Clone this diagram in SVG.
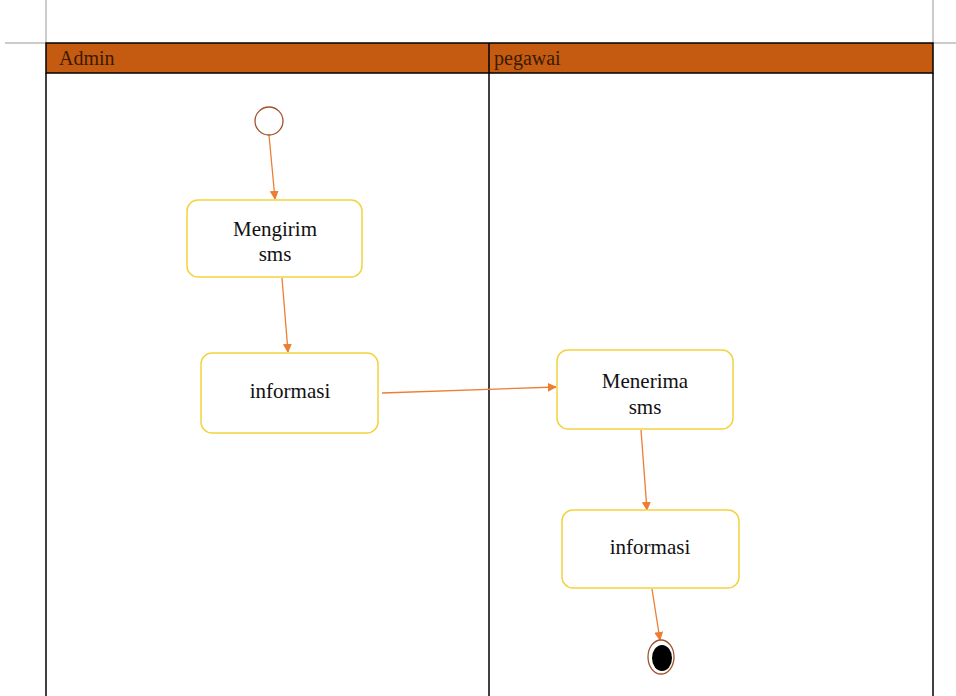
<svg xmlns="http://www.w3.org/2000/svg" width="956" height="696" viewBox="0 0 956 696">
<defs>
<style>
.lane{fill:none;stroke:#000;stroke-width:1.5}
.mark{fill:none;stroke:#999;stroke-width:1}
.hdr{fill:#C55A11;stroke:#000;stroke-width:1.5}
.ht{font-size:20px;fill:#3a1a00}
.box{fill:#fff;stroke:#F2D33F;stroke-width:1.5}
.bt{font-size:21px;fill:#111;text-anchor:middle}
.edge{fill:none;stroke:#ED7D31;stroke-width:1.3;marker-end:url(#ah)}
</style>
<marker id="ah" viewBox="0 0 10 10" refX="9" refY="5" markerWidth="9" markerHeight="9" markerUnits="userSpaceOnUse" orient="auto">
<path d="M0,0 L10,5 L0,10 z" fill="#ED7D31"/>
</marker>
</defs>
<rect width="956" height="696" fill="#fff"/>
<g id="page-marks">
<path class="mark" d="M46,0 V43 M5,43 H46 M933,0 V43 M933,43 H956"/>
</g>
<g id="swimlanes" font-family="'Liberation Serif', 'Times New Roman', 'DejaVu Serif', serif">
<rect class="hdr" x="46" y="43" width="887" height="30"/>
<line class="lane" x1="46" y1="73" x2="46" y2="696"/>
<line class="lane" x1="489" y1="43" x2="489" y2="696"/>
<line class="lane" x1="933" y1="73" x2="933" y2="696"/>
<text class="ht" x="59" y="65">Admin</text>
<text class="ht" x="494" y="65">pegawai</text>
</g>
<g id="connectors">
<line class="edge" x1="269" y1="135" x2="275" y2="199"/>
<line class="edge" x1="282" y1="278" x2="288" y2="352"/>
<line class="edge" x1="382" y1="393" x2="556" y2="387"/>
<line class="edge" x1="641" y1="430" x2="647" y2="510"/>
<line class="edge" x1="652" y1="589" x2="660" y2="640"/>
</g>
<g id="start">
<circle cx="269" cy="121" r="14" fill="#fff" stroke="#A0522D" stroke-width="1.3"/>
</g>
<g id="mengirim-sms" font-family="'Liberation Serif', 'Times New Roman', 'DejaVu Serif', serif">
<rect class="box" x="187" y="200" width="175" height="77" rx="11"/>
<text class="bt" x="275" y="236">Mengirim</text>
<text class="bt" x="275" y="261">sms</text>
</g>
<g id="informasi-admin" font-family="'Liberation Serif', 'Times New Roman', 'DejaVu Serif', serif">
<rect class="box" x="201" y="353" width="177" height="80" rx="11"/>
<text class="bt" x="290" y="398">informasi</text>
</g>
<g id="menerima-sms" font-family="'Liberation Serif', 'Times New Roman', 'DejaVu Serif', serif">
<rect class="box" x="557" y="350" width="176" height="79" rx="11"/>
<text class="bt" x="645" y="388">Menerima</text>
<text class="bt" x="645" y="414">sms</text>
</g>
<g id="informasi-pegawai" font-family="'Liberation Serif', 'Times New Roman', 'DejaVu Serif', serif">
<rect class="box" x="562" y="510" width="177" height="78" rx="11"/>
<text class="bt" x="650" y="554">informasi</text>
</g>
<g id="end">
<ellipse cx="661" cy="657" rx="13" ry="17" fill="#fff" stroke="#A0522D" stroke-width="1.3"/>
<ellipse cx="662" cy="658" rx="10" ry="13" fill="#000"/>
</g>
</svg>
